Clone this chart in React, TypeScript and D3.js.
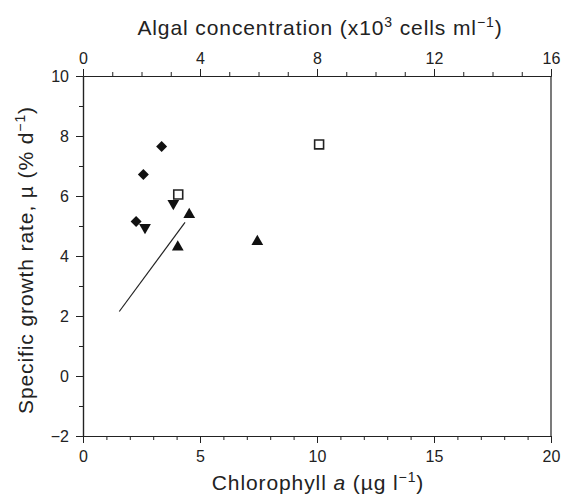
import React from 'react';
import { useEffect, useRef } from 'react';
import * as d3 from 'd3';

// chlorophyll a (ug/l) vs specific growth rate (% per day)
const diamondX = [3.36, 2.58, 2.27];
const diamondY = [7.65, 6.72, 5.15];
const downTriX = [2.65, 3.86];
const downTriY = [4.95, 5.75];
const upTriX = [4.54, 4.05, 7.45];
const upTriY = [5.38, 4.3, 4.48];
const squareX = [4.07, 10.09];
const squareY = [6.05, 7.72];
const fitX = [1.55, 4.36];
const fitY = [2.15, 5.12];

const bottomTicks = [0, 5, 10, 15, 20];
const topTicks = [0, 4, 8, 12, 16];
const leftTicks = [-2, 0, 2, 4, 6, 8, 10];

const App = () => {
    const svgRef = useRef<SVGSVGElement>(null);
    const width = 563;
    const height = 496;
    const m = { left: 83, right: 12, top: 76, bottom: 60 };

    useEffect(() => {
        const svg = d3.select(svgRef.current);
        svg.selectAll('*').remove();
        const font = 'Liberation Sans, Arial, sans-serif';
        const ink = '#222';

        const x = d3.scaleLinear().domain([0, 20]).range([m.left, width - m.right]);
        const xTop = d3.scaleLinear().domain([0, 16]).range([m.left, width - m.right]);
        const y = d3.scaleLinear().domain([-2, 10]).range([height - m.bottom, m.top]);

        const styleAxis = (g) => {
            g.selectAll('path').attr('stroke', ink).attr('stroke-width', 1.2);
            g.selectAll('line').attr('stroke', ink).attr('stroke-width', 1);
            g.selectAll('text').attr('fill', ink).attr('font-family', font).attr('font-size', 16);
        };

        // minor ticks
        const minor = (axis, sc, vals, tr) => {
            svg.append('g').attr('transform', tr)
                .call(axis(sc).tickValues(vals).tickSize(4).tickFormat(() => '').tickSizeOuter(0))
                .call(styleAxis);
        };
        minor(d3.axisBottom, x, d3.range(0, 21), `translate(0,${height - m.bottom})`);
        minor(d3.axisTop, xTop, d3.range(0, 17), `translate(0,${m.top})`);
        minor(d3.axisLeft, y, d3.range(-2, 11), `translate(${m.left},0)`);

        svg.append('g').attr('transform', `translate(0,${height - m.bottom})`)
            .call(d3.axisBottom(x).tickValues(bottomTicks).tickSize(7).tickSizeOuter(0).tickPadding(8))
            .call(styleAxis);
        svg.append('g').attr('transform', `translate(0,${m.top})`)
            .call(d3.axisTop(xTop).tickValues(topTicks).tickSize(7).tickSizeOuter(0).tickPadding(5))
            .call(styleAxis);
        svg.append('g').attr('transform', `translate(${m.left},0)`)
            .call(d3.axisLeft(y).tickValues(leftTicks).tickSize(7).tickSizeOuter(0).tickPadding(7)
                .tickFormat((d) => (d < 0 ? '\u2212' + Math.abs(d) : String(d))))
            .call(styleAxis);
        svg.append('line')
            .attr('x1', width - m.right).attr('x2', width - m.right)
            .attr('y1', m.top).attr('y2', height - m.bottom)
            .attr('stroke', ink).attr('stroke-width', 1.2);

        // titles
        const title = (tx) => tx.attr('text-anchor', 'middle').attr('font-family', font)
            .attr('font-size', 21).attr('letter-spacing', 0.9).attr('fill', ink);
        const sup = (t, s) => {
            t.append('tspan').attr('dy', -8).attr('font-size', 14).text(s);
        };

        const top = svg.append('text').attr('x', 320).attr('y', 35).call(title);
        top.append('tspan').text('Algal concentration (x10');
        sup(top, '3');
        top.append('tspan').attr('dy', 8).text(' cells ml');
        sup(top, '\u22121');
        top.append('tspan').attr('dy', 8).text(')');

        const bot = svg.append('text').attr('x', 318).attr('y', 490).call(title);
        bot.append('tspan').text('Chlorophyll ');
        bot.append('tspan').attr('font-style', 'italic').text('a');
        bot.append('tspan').text(' (\u00b5g l');
        sup(bot, '\u22121');
        bot.append('tspan').attr('dy', 8).text(')');

        const left = svg.append('text')
            .attr('transform', `translate(33,260) rotate(-90)`).call(title);
        left.append('tspan').text('Specific growth rate, \u00b5 (% d');
        sup(left, '\u22121');
        left.append('tspan').attr('dy', 8).text(')');

        // regression line
        svg.append('path')
            .datum(d3.zip(fitX, fitY))
            .attr('d', d3.line().x((d) => x(d[0])).y((d) => y(d[1])))
            .attr('fill', 'none').attr('stroke', ink).attr('stroke-width', 1.2);

        const sym = (type, size, xs, ys, filled, rot = 0) => {
            svg.append('g').selectAll('path')
                .data(d3.zip(xs, ys))
                .join('path')
                .attr('d', d3.symbol().type(type).size(size))
                .attr('transform', (d) => `translate(${x(d[0])},${y(d[1])}) rotate(${rot})`)
                .attr('fill', filled ? '#111' : 'white')
                .attr('stroke', filled ? 'none' : ink)
                .attr('stroke-width', 1.6);
        };
        sym(d3.symbolSquare, 60, diamondX, diamondY, true, 45);
        sym(d3.symbolTriangle, 60, downTriX, downTriY, true, 180);
        sym(d3.symbolTriangle, 60, upTriX, upTriY, true);
        sym(d3.symbolSquare, 80, squareX, squareY, false);
    }, []);

    return (
        <svg width={width} height={height} ref={svgRef}
            style={{ position: 'absolute', left: 0, top: 0, background: 'white' }} />
    );
};

export default App;
